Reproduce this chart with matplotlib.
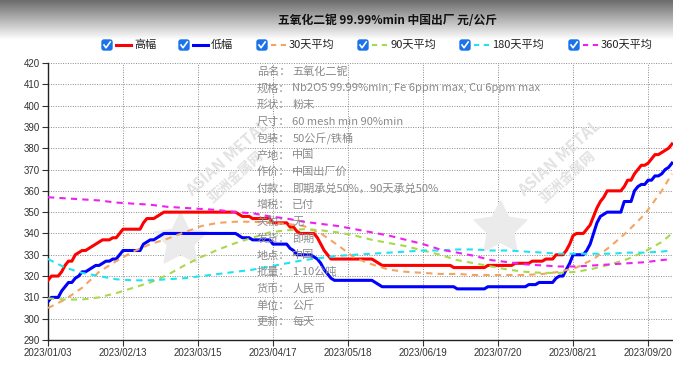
import numpy as np
import matplotlib
matplotlib.use('Agg')
import matplotlib.pyplot as plt
from matplotlib.lines import Line2D
from matplotlib.patches import FancyBboxPatch
from matplotlib.transforms import IdentityTransform

plt.rcParams['font.family'] = ['Noto Sans CJK SC', 'DejaVu Sans']

# --- данні ---
title = '五氧化二铌 99.99%min 中国出厂 元/公斤'
series_names = ['高幅', '低幅', '30天平均', '90天平均', '180天平均', '360天平均']

tick_labels = ['2023/01/03', '2023/02/13', '2023/03/15', '2023/04/17', '2023/05/18',
               '2023/06/19', '2023/07/20', '2023/08/21', '2023/09/20']
tick_days = [0, 22, 44, 66, 88, 110, 132, 154, 176]  # номер торгового дня

high = [318, 320, 320, 320, 322, 325, 327, 327, 330, 331, 332, 332, 333, 334, 335, 336, 337, 337, 337, 338,
        338, 340, 342, 342, 342, 342, 342, 342, 345, 347, 347, 347, 348, 349, 350, 350, 350, 350, 350, 350,
        350, 350, 350, 350, 350, 350, 350, 350, 350, 350, 350, 350, 350, 350, 350, 350, 349, 348, 348, 348,
        347, 347, 347, 347, 347, 347, 345, 345, 345, 345, 345, 343, 343, 341, 340, 340, 340, 340, 340, 338,
        335, 332, 330, 328, 328, 328, 328, 328, 328, 328, 328, 328, 328, 328, 328, 328, 327, 326, 325, 325,
        325, 325, 325, 325, 325, 325, 325, 325, 325, 325, 325, 325, 325, 325, 325, 325, 325, 325, 325, 324,
        324, 324, 324, 324, 324, 324, 324, 324, 324, 325, 325, 325, 325, 325, 325, 325, 325, 326, 326, 326,
        326, 326, 327, 327, 327, 327, 328, 328, 328, 330, 330, 330, 332, 335, 339, 340, 340, 340, 342, 344,
        348, 352, 355, 357, 360, 360, 360, 360, 360, 362, 365, 365, 368, 370, 372, 372, 373, 375, 377, 377,
        378, 379, 380, 382]

low = [308, 310, 310, 310, 313, 315, 317, 317, 319, 320, 322, 322, 323, 324, 325, 325, 326, 327, 327, 328,
       328, 330, 332, 332, 332, 332, 332, 332, 335, 336, 337, 337, 338, 339, 340, 340, 340, 340, 340, 340,
       340, 340, 340, 340, 340, 340, 340, 340, 340, 340, 340, 340, 340, 340, 340, 340, 339, 338, 338, 338,
       337, 337, 337, 337, 337, 337, 335, 335, 335, 335, 335, 333, 332, 330, 330, 330, 330, 330, 329, 328,
       326, 323, 321, 319, 318, 318, 318, 318, 318, 318, 318, 318, 318, 318, 318, 318, 317, 316, 315, 315,
       315, 315, 315, 315, 315, 315, 315, 315, 315, 315, 315, 315, 315, 315, 315, 315, 315, 315, 315, 315,
       314, 314, 314, 314, 314, 314, 314, 314, 314, 315, 315, 315, 315, 315, 315, 315, 315, 315, 315, 315,
       315, 316, 316, 316, 317, 317, 317, 317, 317, 319, 320, 320, 323, 326, 330, 330, 330, 330, 332, 335,
       340, 345, 348, 349, 350, 350, 350, 350, 350, 355, 355, 355, 360, 362, 363, 363, 365, 365, 367, 367,
       368, 370, 371, 373]

# ковзні середні, зняті з графіка кожні 5 торгових днів
ma_days = [0, 5, 10, 15, 20, 25, 30, 35, 40, 45, 50, 55, 60, 65, 70, 75, 80, 85, 90, 95,
           100, 105, 110, 115, 120, 125, 130, 135, 140, 145, 150, 155, 160, 165, 170, 175, 180, 183]
ma30 = [305, 309, 314.5, 322, 327, 331.5, 335, 337.5, 340.5, 343.5, 345, 345.5, 345.5, 345, 344.5, 343.5,
        340, 334.5, 328.5, 325.5, 323, 322, 321.5, 321, 321, 320.5, 320.5, 320.5, 320.5, 321, 322, 324,
        328, 334, 341, 349, 360, 368]
ma90 = [309.5, 309, 309, 310, 312, 314.5, 317, 320.5, 325, 329, 332.5, 335.5, 338, 340.5, 341.5, 342,
        341.5, 340.5, 339, 337, 335.5, 334, 332, 330, 327.5, 326, 324.5, 323, 322, 321.5, 321.5, 322,
        323.5, 325.5, 328, 331.5, 336, 340]
ma180 = [328, 324, 321.5, 320, 318.5, 318, 318, 318.5, 319, 320, 321, 322, 323, 324.5, 326, 327.5,
         328.5, 329.5, 330, 330.5, 331, 331.5, 332, 332, 332.5, 332.5, 332, 332, 331.5, 331, 330.5, 330.5,
         330.5, 330.5, 331, 331, 331.5, 332]
ma360 = [357, 356.5, 356, 355.5, 354.5, 354, 353.5, 352.5, 352, 351.5, 351, 350, 349.5, 348, 347, 345.5,
         344.5, 343.5, 342, 340.5, 339, 337, 335, 332.5, 331, 329.5, 327.5, 326.5, 325.5, 325, 324.5, 324.5,
         325, 325.5, 326, 326.5, 327.5, 328]

info_keys = ['品名：', '规格：', '形状：', '尺寸：', '包装：', '产地：', '作价：', '付款：',
             '增税：', '关税：', '发货：', '地点：', '批量：', '货币：', '单位：', '更新：']
info_vals = ['五氧化二铌', 'Nb2O5 99.99%min, Fe 6ppm max, Cu 6ppm max', '粉末', '60 mesh min 90%min',
             '50公斤/铁桶', '中国', '中国出厂价', '即期承兑50%，90天承兑50%', '已付', '无', '即期',
             '中国', '1-10公吨', '人民币', '公斤', '每天']

colors = ['#ff0000', '#0000ff', '#f4a460', '#a8d94a', '#1ee3f0', '#f020f0']

W, H = 673, 366
fig = plt.figure(figsize=(W / 100, H / 100), dpi=100)


def fx(px):
    return px / W


def fy(py):
    return 1 - py / H


# сірий градієнт у шапці
hdr = fig.add_axes([0, fy(40), 1, 40 / H], zorder=-1)
hdr.imshow(np.linspace(0.42, 1.0, 100).reshape(-1, 1), aspect='auto', cmap='gray',
           vmin=0, vmax=1, extent=[0, 1, 0, 1])
hdr.axis('off')

fig.text(fx(388), fy(20), title, ha='center', va='center', fontsize=8.5,
         fontweight='bold', color='#111111')

# легенда з "чекбоксами"
idt = IdentityTransform()
box_x = [107, 184, 262, 363, 465, 574]
ly = 45
for k, (name, c) in enumerate(zip(series_names, colors)):
    bx = box_x[k]
    fig.add_artist(FancyBboxPatch((bx - 5, H - ly - 5), 10, 10, boxstyle='round,pad=0,rounding_size=2',
                                  fc='#1a73e8', ec='#1a73e8', transform=idt))
    fig.add_artist(Line2D([bx - 3, bx - 1, bx + 3.2], [H - ly, H - ly - 2.8, H - ly + 3],
                          color='white', lw=1.2, transform=idt))
    if k < 2:
        fig.add_artist(Line2D([bx + 9, bx + 24], [H - ly, H - ly], color=c, lw=2.2, transform=idt))
    else:
        fig.add_artist(Line2D([bx + 9, bx + 24], [H - ly, H - ly], color=c, lw=1.5,
                              dashes=(2.5, 2.2), transform=idt))
    fig.text(fx(bx + 27), fy(ly), name, ha='left', va='center', fontsize=8, color='#222222')

# основний графік
ax = fig.add_axes([fx(48), fy(340), fx(673) - fx(48), fy(63) - fy(340)])
days = np.arange(len(high))

# водяні знаки
for sx, tx in [(180, 228), (500, 560)]:
    ax.plot([fx(sx)], [fy(240 if sx == 180 else 228)], marker=(5, 1, 0), markersize=40,
            color='#ebebeb', transform=fig.transFigure, clip_on=False, zorder=1)
    ax.text(fx(tx), fy(158), 'ASIAN METAL', rotation=42, ha='center', va='center', fontsize=11.5,
            fontweight='bold', color='#e2e2e2', transform=fig.transFigure, zorder=1)
    ax.text(fx(tx + 8), fy(177), '亚洲金属网', rotation=42, ha='center', va='center', fontsize=10,
            fontweight='bold', color='#e2e2e2', transform=fig.transFigure, zorder=1)

ax.plot(days, high, color=colors[0], lw=2.2, zorder=3)
ax.plot(days, low, color=colors[1], lw=2.2, zorder=3)
for vals, c in zip([ma30, ma90, ma180, ma360], colors[2:]):
    ax.plot(ma_days, vals, color=c, lw=1.5, dashes=(3, 2.5), zorder=4)

ax.set_xlim(0, 183.3)
ax.set_ylim(290, 420)
ax.set_yticks(range(290, 421, 10))
ax.set_xticks(tick_days)
ax.set_xticklabels(tick_labels)
for lab in ax.get_xticklabels() + ax.get_yticklabels():
    lab.set_fontfamily(['Liberation Sans', 'DejaVu Sans'])
ax.tick_params(axis='both', labelsize=7, colors='#333333', length=4, width=0.8, pad=2)
ax.grid(True, color='#8a8a8a', lw=0.7, dashes=(1, 1.5))
ax.set_axisbelow(True)
for s in ['top', 'right']:
    ax.spines[s].set_visible(False)
for s in ['left', 'bottom']:
    ax.spines[s].set_color('#222222')
    ax.spines[s].set_linewidth(1)

# блок з описом товару
for n, (k, v) in enumerate(zip(info_keys, info_vals)):
    yy = 71.7 + n * 16.7
    fig.text(fx(256.7), fy(yy), k, ha='left', va='center', fontsize=8, color='#8a8a8a')
    fig.text(fx(292.3), fy(yy), v, ha='left', va='center', fontsize=8, color='#8a8a8a')

fig.savefig('out.png', dpi=100)
